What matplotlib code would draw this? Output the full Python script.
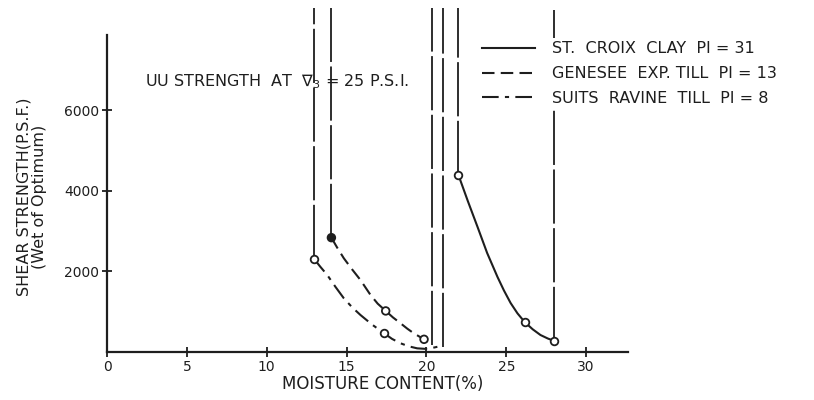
import matplotlib.pyplot as plt

# moisture content (%) vs UU shear strength (psf)
# measured points
croix_x = [22.0, 26.15, 28.0]
croix_y = [4400, 745, 275]
genesee_x = [14.05, 17.45, 19.85]
genesee_y = [2840, 1020, 315]
suits_x = [12.95, 17.35]
suits_y = [2320, 465]

# hand-drawn curves
croix_curve_x = [22.0, 22.6, 23.2, 23.8, 24.45, 24.85, 25.27, 25.7, 26.15, 26.65, 27.14, 27.6, 28.0]
croix_curve_y = [4400, 3740, 3106, 2460, 1863, 1530, 1217, 960, 745, 565, 422, 335, 275]
genesee_curve_x = [14.05, 14.4, 14.83, 15.35, 15.87, 16.5, 16.95, 17.45, 17.9, 18.38, 18.8, 19.21, 19.85, 20.36]
genesee_curve_y = [2840, 2600, 2327, 2050, 1788, 1416, 1200, 1020, 860, 713, 580, 464, 315, 170]
suits_curve_x = [12.95, 13.35, 13.79, 14.3, 14.83, 15.35, 15.87, 16.6, 17.35, 17.85, 18.38, 18.9, 19.42, 20.05, 20.7, 21.03]
suits_curve_y = [2320, 2120, 1913, 1620, 1333, 1110, 919, 680, 465, 325, 216, 140, 91, 75, 130, 130]

# vertical branches going off the top of the chart
vert_x = [12.95, 14.05, 20.36, 21.03, 22.0, 28.0]
vert_bottom = [2320, 2840, 170, 130, 4400, 275]
vert_top = [8550, 8550, 8550, 8550, 8550, 8500]

labels = ['ST.  CROIX  CLAY  PI = 31', 'GENESEE  EXP. TILL  PI = 13', 'SUITS  RAVINE  TILL  PI = 8']
x_ticks = [0, 5, 10, 15, 20, 25, 30]
y_ticks = [2000, 4000, 6000]

ink = '#1e1e1e'
plt.rcParams['font.family'] = 'DejaVu Sans'

fig = plt.figure(figsize=(8.14, 4.0), dpi=100)
ax = fig.add_axes([107/814, 48/400, 521/814, 317/400])
ax.set_xlim(0, 32.62)
ax.set_ylim(0, 7874)

for xv, y0, y1 in zip(vert_x, vert_bottom, vert_top):
    ax.plot([xv, xv], [y0, y1], color=ink, lw=1.3, linestyle=(0, (30, 2.5)), clip_on=False)

l1, = ax.plot(croix_curve_x, croix_curve_y, color=ink, lw=1.5, label=labels[0])
l2, = ax.plot(genesee_curve_x, genesee_curve_y, color=ink, lw=1.5, linestyle=(0, (6, 3)), label=labels[1])
l3, = ax.plot(suits_curve_x, suits_curve_y, color=ink, lw=1.5, linestyle=(0, (8, 3, 2, 3)), label=labels[2])

ax.scatter(croix_x, croix_y, s=30, facecolors='white', edgecolors=ink, linewidths=1.3, zorder=4, clip_on=False)
ax.scatter(genesee_x, genesee_y, s=30, facecolors=[ink, 'white', 'white'], edgecolors=ink, linewidths=1.3, zorder=4)
ax.scatter(suits_x, suits_y, s=30, facecolors='white', edgecolors=ink, linewidths=1.3, zorder=4)

for s in ['top', 'right']:
    ax.spines[s].set_visible(False)
for s in ['left', 'bottom']:
    ax.spines[s].set_linewidth(1.6)
    ax.spines[s].set_color(ink)

ax.set_xticks(x_ticks)
ax.set_xticklabels([str(v) for v in x_ticks])
ax.set_yticks(y_ticks)
ax.set_yticklabels([str(v) for v in y_ticks])
ax.tick_params(direction='inout', length=7, width=1.3, colors=ink, labelsize=10, pad=2)

ax.set_xlabel('MOISTURE CONTENT(%)', fontsize=12, color=ink)
ax.xaxis.set_label_coords(0.53, -0.072)
ax.set_ylabel('SHEAR STRENGTH(P.S.F.)\n(Wet of Optimum)', fontsize=11.5, color=ink, linespacing=1.05)
ax.yaxis.set_label_coords(-0.115, 0.49)

ax.text(2.41, 6707, r'UU STRENGTH  AT  $\nabla_3$ = 25 P.S.I.', fontsize=11.5, color=ink, va='center')

leg = ax.legend(handles=[l1, l2, l3], loc='upper left', bbox_to_anchor=(479/814, 1 - 38/400),
                bbox_transform=fig.transFigure, fontsize=11.5, frameon=True, handlelength=3.3,
                handletextpad=1.1, labelspacing=0.62, borderpad=0.2, borderaxespad=0, fancybox=False)
leg.get_frame().set_facecolor('white')
leg.get_frame().set_edgecolor('none')
leg.get_frame().set_alpha(1)
for t in leg.get_texts():
    t.set_color(ink)

fig.savefig('out.png', dpi=100)
